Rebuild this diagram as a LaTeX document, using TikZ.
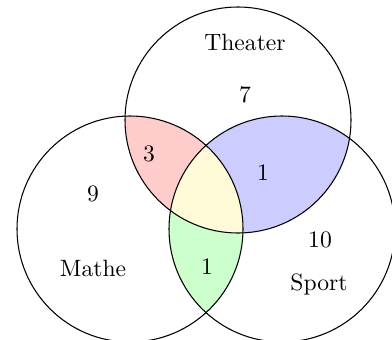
\documentclass[tikz,border=0pt]{standalone}
\begin{document}
\begin{tikzpicture}[x=0.4237pt,y=-0.4237pt]
\definecolor{triple}{RGB}{255,250,216}
\tikzset{setcircle/.style={draw=black,line width=0.45pt},
  lbl/.style={inner sep=0pt}}
\useasboundingbox (0,0) rectangle (392,339);
\def\R{47.88pt}
\coordinate (M) at (130,229);
\coordinate (T) at (238,120);
\coordinate (S) at (282,229);
% pairwise intersections
\begin{scope}
  \clip (M) circle[radius=\R];
  \fill[red!20] (T) circle[radius=\R];
  \fill[green!20] (S) circle[radius=\R];
\end{scope}
\begin{scope}
  \clip (T) circle[radius=\R];
  \fill[blue!20] (S) circle[radius=\R];
\end{scope}
\begin{scope}
  \clip (M) circle[radius=\R];
  \clip (T) circle[radius=\R];
  \fill[triple] (S) circle[radius=\R];
\end{scope}
\draw[setcircle] (M) circle[radius=\R];
\draw[setcircle] (T) circle[radius=\R];
\draw[setcircle] (S) circle[radius=\R];
\node[lbl] (theater) at (245,42) {Theater};
\node[lbl] (n7) at (245,95) {7};
\node[lbl] (n3) at (149,154) {3};
\node[lbl] (n1b) at (263,173) {1};
\node[lbl] (n9) at (93,194) {9};
\node[lbl] (n10) at (320,240) {10};
\node[lbl] (mathe) at (93,268) {Mathe};
\node[lbl] (n1g) at (207,267) {1};
\node[lbl] (sport) at (319,284) {Sport};
\end{tikzpicture}
\end{document}
